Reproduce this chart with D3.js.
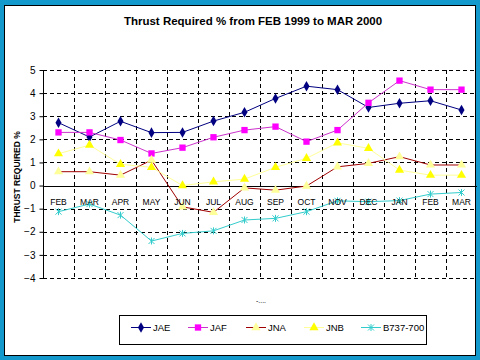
<!DOCTYPE html>
<meta charset="utf-8">
<style>
body { margin: 0; }
text { font-family: Arial, "Liberation Sans", sans-serif; }
.grid { stroke: #000; stroke-width: 1px; stroke-dasharray: 4,3; fill: none; shape-rendering: crispEdges; }
.axis { stroke: #000; stroke-width: 1px; shape-rendering: crispEdges; }
</style>
<body>
<script src="https://cdn.jsdelivr.net/npm/d3@7"></script>
<script>
var width = 480,
    height = 360;

var months = ["FEB", "MAR", "APR", "MAY", "JUN", "JUL", "AUG", "SEP", "OCT", "NOV", "DEC", "JAN", "FEB", "MAR"];
var yTicks = [-4, -3, -2, -1, 0, 1, 2, 3, 4, 5];

var jae  = [2.72, 2.1, 2.78, 2.29, 2.3, 2.79, 3.17, 3.77, 4.3, 4.15, 3.38, 3.56, 3.67, 3.27];
var jaf  = [2.3, 2.3, 1.97, 1.39, 1.64, 2.09, 2.4, 2.55, 1.9, 2.4, 3.58, 4.54, 4.15, 4.15];
var jna  = [0.6, 0.6, 0.45, 1.1, -0.92, -1.16, -0.1, -0.2, -0.02, 0.81, 0.96, 1.25, 0.89, 0.89];
var jnb  = [1.38, 1.75, 0.92, 0.79, 0.0, 0.16, 0.28, 0.79, 1.18, 1.85, 1.61, 0.67, 0.45, 0.45];
var b737 = [-1.13, -0.8, -1.28, -2.4, -2.07, -1.96, -1.49, -1.42, -1.13, -0.66, -0.7, -0.65, -0.37, -0.3];

var series = [
  {name: "JAE", values: jae, line: "#000080", mark: "#000080", shape: "diamond"},
  {name: "JAF", values: jaf, line: "#cc33cc", mark: "#ff00ff", shape: "square"},
  {name: "JNA", values: jna, line: "#a00000", mark: "#ffff99", shape: "triangle"},
  {name: "JNB", values: jnb, line: "#ffff99", mark: "#ffff00", shape: "triangle"},
  {name: "B737-700", values: b737, line: "#33cccc", mark: "#33cccc", shape: "star"}
];

var svg = d3.select("body").append("svg")
    .attr("width", width)
    .attr("height", height);

// frame
svg.append("rect").attr("width", width).attr("height", height).attr("fill", "#1499cc");
svg.append("rect").attr("x", 4.5).attr("y", 5.5).attr("width", 471).attr("height", 350)
    .attr("fill", "#fff").attr("stroke", "#000").attr("stroke-width", 1);

var x = d3.scaleBand().domain(d3.range(months.length)).range([43, 477]);
var y = d3.scaleLinear().domain([-4, 5]).range([278, 70]);
var cx = function(i) { return x(i) + x.bandwidth() / 2; };

svg.append("text")
    .attr("x", 253).attr("y", 25)
    .attr("text-anchor", "middle")
    .style("font-size", "11.5px").style("font-weight", "bold")
    .text("Thrust Required % from FEB 1999 to MAR 2000");

// grid
var g = svg.append("g");
g.selectAll(".hgrid").data(yTicks.filter(function(d) { return d !== 0; }))
  .enter().append("line").attr("class", "grid")
    .attr("x1", 43).attr("x2", 477)
    .attr("y1", function(d) { return Math.round(y(d)) + 0.5; })
    .attr("y2", function(d) { return Math.round(y(d)) + 0.5; });
g.selectAll(".vgrid").data(d3.range(1, months.length))
  .enter().append("line").attr("class", "grid")
    .attr("x1", function(i) { return Math.round(x(i)) + 0.5; })
    .attr("x2", function(i) { return Math.round(x(i)) + 0.5; })
    .attr("y1", y(5)).attr("y2", y(-4));

// axes
g.append("line").attr("class", "axis")
    .attr("x1", 43.5).attr("x2", 43.5).attr("y1", y(5)).attr("y2", y(-4));
g.append("line").attr("class", "axis")
    .attr("x1", 43).attr("x2", 477).attr("y1", Math.round(y(0)) + 0.5).attr("y2", Math.round(y(0)) + 0.5);

var yAxis = svg.append("g")
    .attr("transform", "translate(43.5,0)")
    .call(d3.axisLeft(y).tickValues(yTicks).tickSize(4).tickPadding(4).tickFormat(d3.format("d")));
yAxis.select(".domain").remove();
yAxis.selectAll("text").style("font-size", "10px");

svg.append("text")
    .attr("transform", "translate(20,177) rotate(-90)")
    .attr("text-anchor", "middle")
    .style("font-size", "8.5px").style("font-weight", "bold")
    .text("THRUST REQUIRED %");

// lines
var line = d3.line()
    .x(function(d, i) { return cx(i); })
    .y(function(d) { return y(d); });

var symbols = {
  diamond: d3.symbol().type(d3.symbolDiamond).size(32),
  square: d3.symbol().type(d3.symbolSquare).size(40),
  triangle: d3.symbol().type(d3.symbolTriangle).size(36)
};

function drawMark(sel, s) {
  if (s.shape === "star") {
    sel.append("path")
        .attr("d", "M-3,-3L3,3M-3,3L3,-3M0,-3.5L0,3.5")
        .attr("stroke", s.mark).attr("stroke-width", 1).attr("fill", "none");
  } else {
    sel.append("path")
        .attr("d", symbols[s.shape]())
        .attr("fill", s.mark);
  }
}

series.forEach(function(s) {
  svg.append("path")
      .datum(s.values)
      .attr("fill", "none")
      .attr("stroke", s.line)
      .attr("stroke-width", 1)
      .attr("d", line);
});

series.forEach(function(s) {
  svg.append("g").selectAll("g").data(s.values).enter().append("g")
      .attr("transform", function(d, i) { return "translate(" + cx(i) + "," + y(d) + ")"; })
      .each(function() { drawMark(d3.select(this), s); });
});

// month labels
svg.append("g").selectAll("text").data(months).enter().append("text")
    .attr("x", function(d, i) { return cx(i); })
    .attr("y", 205)
    .attr("text-anchor", "middle")
    .style("font-size", "8.5px")
    .text(function(d) { return d; });

svg.append("text")
    .attr("x", 261).attr("y", 303)
    .attr("text-anchor", "middle")
    .style("font-size", "7px")
    .text("-....");

// legend
var legend = svg.append("g");
legend.append("rect")
    .attr("x", 119.5).attr("y", 315.5).attr("width", 307).attr("height", 29)
    .attr("fill", "#fff").attr("stroke", "#000").attr("stroke-width", 1);
var legendX = [131, 188, 246, 304, 361];
series.forEach(function(s, i) {
  var lg = legend.append("g").attr("transform", "translate(" + legendX[i] + ",327.5)");
  lg.append("line").attr("x1", 0).attr("x2", 20).attr("stroke", s.line).attr("stroke-width", 1);
  drawMark(lg.append("g").attr("transform", "translate(10,0)"), s);
  lg.append("text").attr("x", 22).attr("y", 3.5)
      .style("font-size", "9.5px")
      .text(s.name);
});
</script>
